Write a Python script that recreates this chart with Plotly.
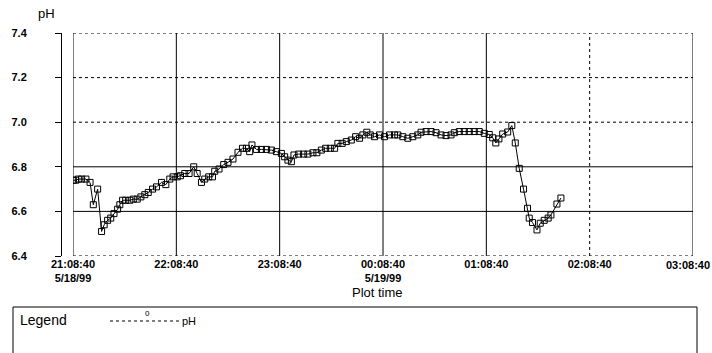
import pandas as pd
import plotly.graph_objects as go

# ---- data ----
start_time = "1999-05-18 21:08:40"
elapsed_min = [0.2, 1.6, 3.1, 5.0, 7.5, 9.9, 11.8, 14.3, 16.6, 18.1, 20.1, 21.9, 23.8, 25.9, 27.2,
               28.8, 30.6, 33.0, 35.0, 37.3, 39.4, 41.7, 43.7, 46.2, 48.5, 51.4, 53.9, 56.2, 58.1,
               60.5, 62.4, 64.9, 67.4, 70.1, 72.1, 74.6, 76.5, 78.8, 81.0, 82.3, 84.8, 87.5, 90.0,
               92.9, 95.8, 98.4, 100.7, 102.6, 103.9, 106.5, 109.4, 112.3, 115.2, 118.1, 121.0,
               122.9, 124.8, 126.8, 128.3, 131.0, 133.9, 136.4, 139.3, 141.6, 144.2, 146.7, 149.4,
               151.9, 153.8, 156.3, 158.7, 161.6, 164.1, 166.4, 168.3, 170.6, 172.6, 175.1, 178.0,
               180.9, 183.8, 186.7, 188.6, 191.5, 194.4, 197.3, 200.2, 202.1, 205.0, 207.9, 210.8,
               213.7, 216.6, 219.5, 221.4, 224.3, 227.2, 230.1, 233.0, 235.9, 238.8, 241.7, 243.7,
               245.5, 247.3, 249.5, 252.4, 254.8, 256.8, 259.1, 261.6, 263.9, 264.9, 266.8, 269.4,
               271.3, 273.6, 275.9, 277.5, 281.0, 283.3]
ph = [6.74, 6.74, 6.745, 6.745, 6.745, 6.73, 6.63, 6.70, 6.51, 6.54, 6.56, 6.57, 6.59, 6.61, 6.63,
      6.65, 6.65, 6.65, 6.655, 6.655, 6.665, 6.675, 6.685, 6.70, 6.71, 6.73, 6.72, 6.745, 6.755,
      6.755, 6.76, 6.77, 6.77, 6.80, 6.77, 6.73, 6.745, 6.755, 6.755, 6.78, 6.79, 6.81, 6.82,
      6.835, 6.865, 6.883, 6.883, 6.868, 6.898, 6.878, 6.878, 6.878, 6.875, 6.868, 6.86,
      6.845, 6.83, 6.823, 6.853, 6.857, 6.857, 6.857, 6.863, 6.863, 6.875, 6.883, 6.883,
      6.883, 6.905, 6.905, 6.913, 6.92, 6.935, 6.928, 6.943, 6.955, 6.943, 6.935, 6.943,
      6.935, 6.943, 6.943, 6.943, 6.935, 6.928, 6.935, 6.943, 6.955, 6.958, 6.958, 6.953,
      6.943, 6.94, 6.943, 6.953, 6.958, 6.958, 6.958, 6.958, 6.958, 6.95, 6.945, 6.93,
      6.907, 6.925, 6.947, 6.956, 6.985, 6.907, 6.793, 6.70, 6.614, 6.57, 6.55, 6.517,
      6.547, 6.56, 6.57, 6.584, 6.633, 6.66]

x_tick_times = ["1999-05-18 21:08:40", "1999-05-18 22:08:40", "1999-05-18 23:08:40",
                "1999-05-19 00:08:40", "1999-05-19 01:08:40", "1999-05-19 02:08:40",
                "1999-05-19 03:08:40"]
x_tick_text = ["21:08:40<br>5/18/99", "22:08:40", "23:08:40", "00:08:40<br>5/19/99",
               "01:08:40", "02:08:40", "03:08:40"]
y_ticks = [6.4, 6.6, 6.8, 7.0, 7.2, 7.4]
y_tick_text = ["6.4", "6.6", "6.8", "7.0", "7.2", "7.4"]

# ---- build ----
t0 = pd.Timestamp(start_time)
times = [t0 + pd.Timedelta(minutes=m) for m in elapsed_min]

W, H = 712, 353
L, R, T, B = 61, 19, 33, 97
PW, PHt = W - L - R, H - T - B


def px(x):
    return (x - L) / PW


def py(y):
    return (H - B - y) / PHt


fig = go.Figure()
fig.add_trace(go.Scatter(
    x=times, y=ph, mode="lines+markers", name="pH",
    line=dict(color="black", width=1),
    marker=dict(symbol="square-open", size=6, color="black", line=dict(width=1)),
    showlegend=False,
))

shapes = []
h_style = {6.4: "dot", 6.6: "solid", 6.8: "solid", 7.0: "dot", 7.2: "dot", 7.4: "dot"}
for v in y_ticks:
    shapes.append(dict(type="line", xref="x", yref="y", x0=x_tick_times[0], x1=x_tick_times[-1],
                       y0=v, y1=v, line=dict(color="black", width=1, dash=h_style[v]),
                       layer="below"))
v_style = ["solid", "solid", "solid", "solid", "solid", "dot", "solid"]
for t, d in zip(x_tick_times, v_style):
    shapes.append(dict(type="line", xref="x", yref="y", x0=t, x1=t, y0=6.4, y1=7.4,
                       line=dict(color="black", width=1, dash=d), layer="below"))

# legend box
shapes.append(dict(type="rect", xref="paper", yref="paper", x0=px(13), x1=px(697),
                   y0=py(370), y1=py(307), line=dict(color="black", width=1)))
shapes.append(dict(type="line", xref="paper", yref="paper", x0=px(110), x1=px(179),
                   y0=py(321), y1=py(321), line=dict(color="black", width=1, dash="dot")))

tick_font = dict(size=11, color="black", family="Liberation Sans, Arial, sans-serif",
                 weight="bold")

# last x tick label sits flush with the right page edge, so draw it as a right-anchored text
shown_tick_text = x_tick_text[:-1] + [""]

annotations = [
    dict(text="pH", xref="paper", yref="paper", x=px(36), y=py(14), xanchor="left",
         yanchor="middle", showarrow=False, font=dict(size=13, color="black")),
    dict(text="Plot time", xref="paper", yref="paper", x=px(377), y=py(292), xanchor="center",
         yanchor="middle", showarrow=False, font=dict(size=13, color="black")),
    dict(text="Legend", xref="paper", yref="paper", x=px(18), y=py(320), xanchor="left",
         yanchor="middle", showarrow=False, font=dict(size=14, color="black")),
    dict(text="0", xref="paper", yref="paper", x=px(147), y=py(314), xanchor="center",
         yanchor="middle", showarrow=False, font=dict(size=8, color="black")),
    dict(text="pH", xref="paper", yref="paper", x=px(180), y=py(321), xanchor="left",
         yanchor="middle", showarrow=False, font=dict(size=11, color="black")),
    dict(text=x_tick_text[-1], xref="paper", yref="paper", x=px(711), y=py(265),
         xanchor="right", yanchor="middle", showarrow=False, font=tick_font,
         borderpad=0),
]

fig.update_layout(
    width=W, height=H,
    margin=dict(l=L, r=R, t=T, b=B, pad=0, autoexpand=False),
    paper_bgcolor="white", plot_bgcolor="white",
    font=dict(family="Liberation Sans, Arial, sans-serif", color="black"),
    xaxis=dict(
        type="date", domain=[px(73), 1],
        range=[x_tick_times[0], x_tick_times[-1]],
        tickmode="array", tickvals=x_tick_times, ticktext=shown_tick_text,
        showgrid=False, zeroline=False, showline=False, ticks="",
        tickfont=tick_font, automargin=False, ticklabeloverflow="allow",
    ),
    yaxis=dict(
        range=[6.4, 7.4], anchor="free", position=0,
        tickmode="array", tickvals=y_ticks, ticktext=y_tick_text,
        showgrid=False, zeroline=False, showline=True, linecolor="black", linewidth=1,
        ticks="outside", ticklen=6, tickcolor="black", ticklabelstandoff=26,
        tickfont=tick_font, automargin=False, ticklabeloverflow="allow",
    ),
    shapes=shapes,
    annotations=annotations,
)

fig.write_html("out.html", config={"displayModeBar": False},
               post_script="document.body.style.margin='0';")
